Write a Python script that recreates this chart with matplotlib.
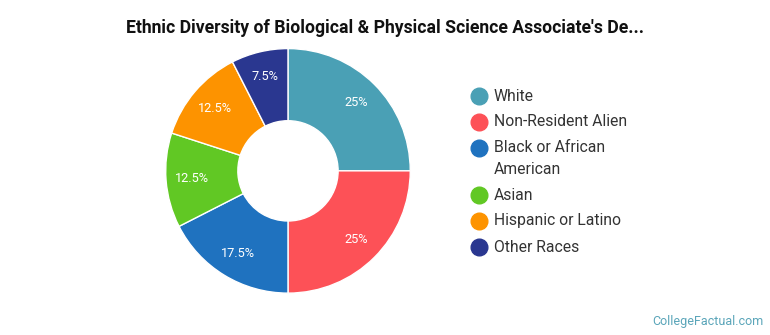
import matplotlib.pyplot as plt
from matplotlib.lines import Line2D
import numpy as np

plt.rcParams['font.family'] = ['Roboto', 'DejaVu Sans']

# data
labels = ['White', 'Non-Resident Alien', 'Black or African\nAmerican', 'Asian',
          'Hispanic or Latino', 'Other Races']
shares = [25, 25, 17.5, 12.5, 12.5, 7.5]
pct_text = ['25%', '25%', '17.5%', '12.5%', '12.5%', '7.5%']
colors = ['#4aa0b5', '#fd5157', '#1f72bf', '#61c824', '#fd9300', '#2a3790']

W, H = 770, 335
fig = plt.figure(figsize=(W / 100, H / 100), dpi=100)
ax = fig.add_axes([0.374 - 0.159, 0.49 - 0.365, 0.318, 0.73])

wedges, _ = ax.pie(shares, colors=colors, startangle=90, counterclock=False,
                   wedgeprops=dict(width=0.59, edgecolor='white', linewidth=1))
ax.set_xlim(-1.0, 1.0)
ax.set_ylim(-1.0, 1.0)
ax.set_aspect('equal')

# percentage labels in the middle of each ring segment
for w, t in zip(wedges, pct_text):
    ang = np.deg2rad((w.theta1 + w.theta2) / 2)
    ax.text(0.79 * np.cos(ang), 0.79 * np.sin(ang), t, ha='center', va='center',
            color='white', fontsize=9.2)

fig.text(0.5, 0.916, "Ethnic Diversity of Biological & Physical Science Associate's De...",
         ha='center', va='center', fontsize=12.7, fontweight='bold', color='#111111')

# legend drawn by hand: dot + label, wrapped labels take extra lines
y = 96  # pixels from top
for lab, c in zip(labels, colors):
    fig.add_artist(Line2D([479 / W], [1 - y / H], marker='o', linestyle='',
                          markersize=12, markerfacecolor=c, markeredgecolor=c))
    lines = lab.split('\n')
    for i, ln in enumerate(lines):
        fig.text(494 / W, 1 - (y + 21 * i) / H, ln, ha='left', va='center',
                 fontsize=11.3, color='#333333')
    y += 21 * (len(lines) - 1) + 26

fig.text(0.992, 0.04, 'CollegeFactual.com', ha='right', va='center',
         fontsize=9, color='#5aa5b9')

fig.savefig('out.png', dpi=100)
